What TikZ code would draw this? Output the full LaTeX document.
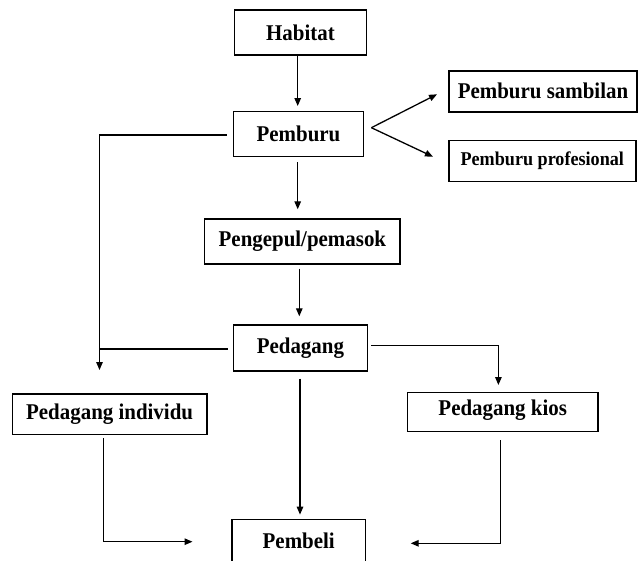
\documentclass[tikz,border=0pt]{standalone}
\usepackage{fontspec}
\setmainfont[FakeStretch=0.93]{Liberation Serif}
\usetikzlibrary{arrows.meta,calc}
\begin{document}
\begin{tikzpicture}[x=1pt,y=-1pt,
  box/.style={draw,line width=1.4pt,inner sep=0pt,font=\bfseries\fontsize{22.5}{25}\selectfont},
  conn/.style={line width=1.3pt},
  arr/.style={conn,-{Triangle[length=8pt,width=6.5pt]}}]
\useasboundingbox (0,0) rectangle (642,560);
\node[box,minimum width=132pt,minimum height=45pt] (hab) at (300.5,32.5) {Habitat};
\node[box,minimum width=130pt,minimum height=45pt] (pemb) at (298.5,134.2) {Pemburu};
\node[box,minimum width=188pt,minimum height=41pt] (samb) at (543,91.3) {Pemburu sambilan};
\node[box,minimum width=187pt,minimum height=41pt,font=\bfseries\fontsize{19.5}{22}\selectfont] (prof) at (542.3,161.2) {Pemburu profesional};
\node[box,minimum width=195.3pt,minimum height=45pt] (peng) at (302.4,241.5) {Pengepul/pemasok};
\node[box,minimum width=134pt,minimum height=46pt] (ped) at (300.4,348) {Pedagang};
\node[box,minimum width=194.5pt,minimum height=40.3pt] (ind) at (109.6,414.2) {Pedagang individu};
\node[box,minimum width=190.4pt,minimum height=39pt,text depth=9pt] (kios) at (502.7,412.2) {Pedagang kios};
\node[box,minimum width=133.3pt,minimum height=42.4pt] (beli) at (298.7,540.5) {Pembeli};
% free ends
\coordinate (fork) at (371.4,127.7);
\coordinate (sambEnd) at (437,94.3);
\coordinate (profEnd) at (433,156.7);
\coordinate (leftEnd) at (99.5,370);
\coordinate (rightEnd) at (498.4,385);
\coordinate (indEnd) at (192.5,541.7);
\coordinate (kiosEnd) at (410.7,543.3);
% connectors
\draw[arr,shorten >=5pt] (hab.south -| 297.7,0) -- (pemb.north -| 297.7,0);
\draw[arr,shorten <=5pt,shorten >=9pt] (pemb.south -| 297.7,0) -- (peng.north -| 297.7,0);
\draw[arr,shorten <=4pt,shorten >=8pt] (peng.south -| 299.3,0) -- (ped.north -| 299.3,0);
\draw[arr,shorten <=7pt,shorten >=4pt] (ped.south -| 300,0) -- (beli.north -| 300,0);
\draw[arr] (fork) -- (sambEnd);
\draw[arr] (fork) -- (profEnd);
\draw[arr,shorten <=6pt] (pemb.west |- 0,135) -| (leftEnd);
\draw[conn,shorten <=5pt] (ped.west |- 0,349) -- (99.5,349);
\draw[arr,shorten <=3pt] (ped.east |- 0,345.7) -| (rightEnd);
\draw[arr,shorten <=3pt] (ind.south -| 103.6,0) |- (indEnd);
\draw[arr,shorten <=8pt] (kios.south -| 500.4,0) |- (kiosEnd);
\end{tikzpicture}
\end{document}
